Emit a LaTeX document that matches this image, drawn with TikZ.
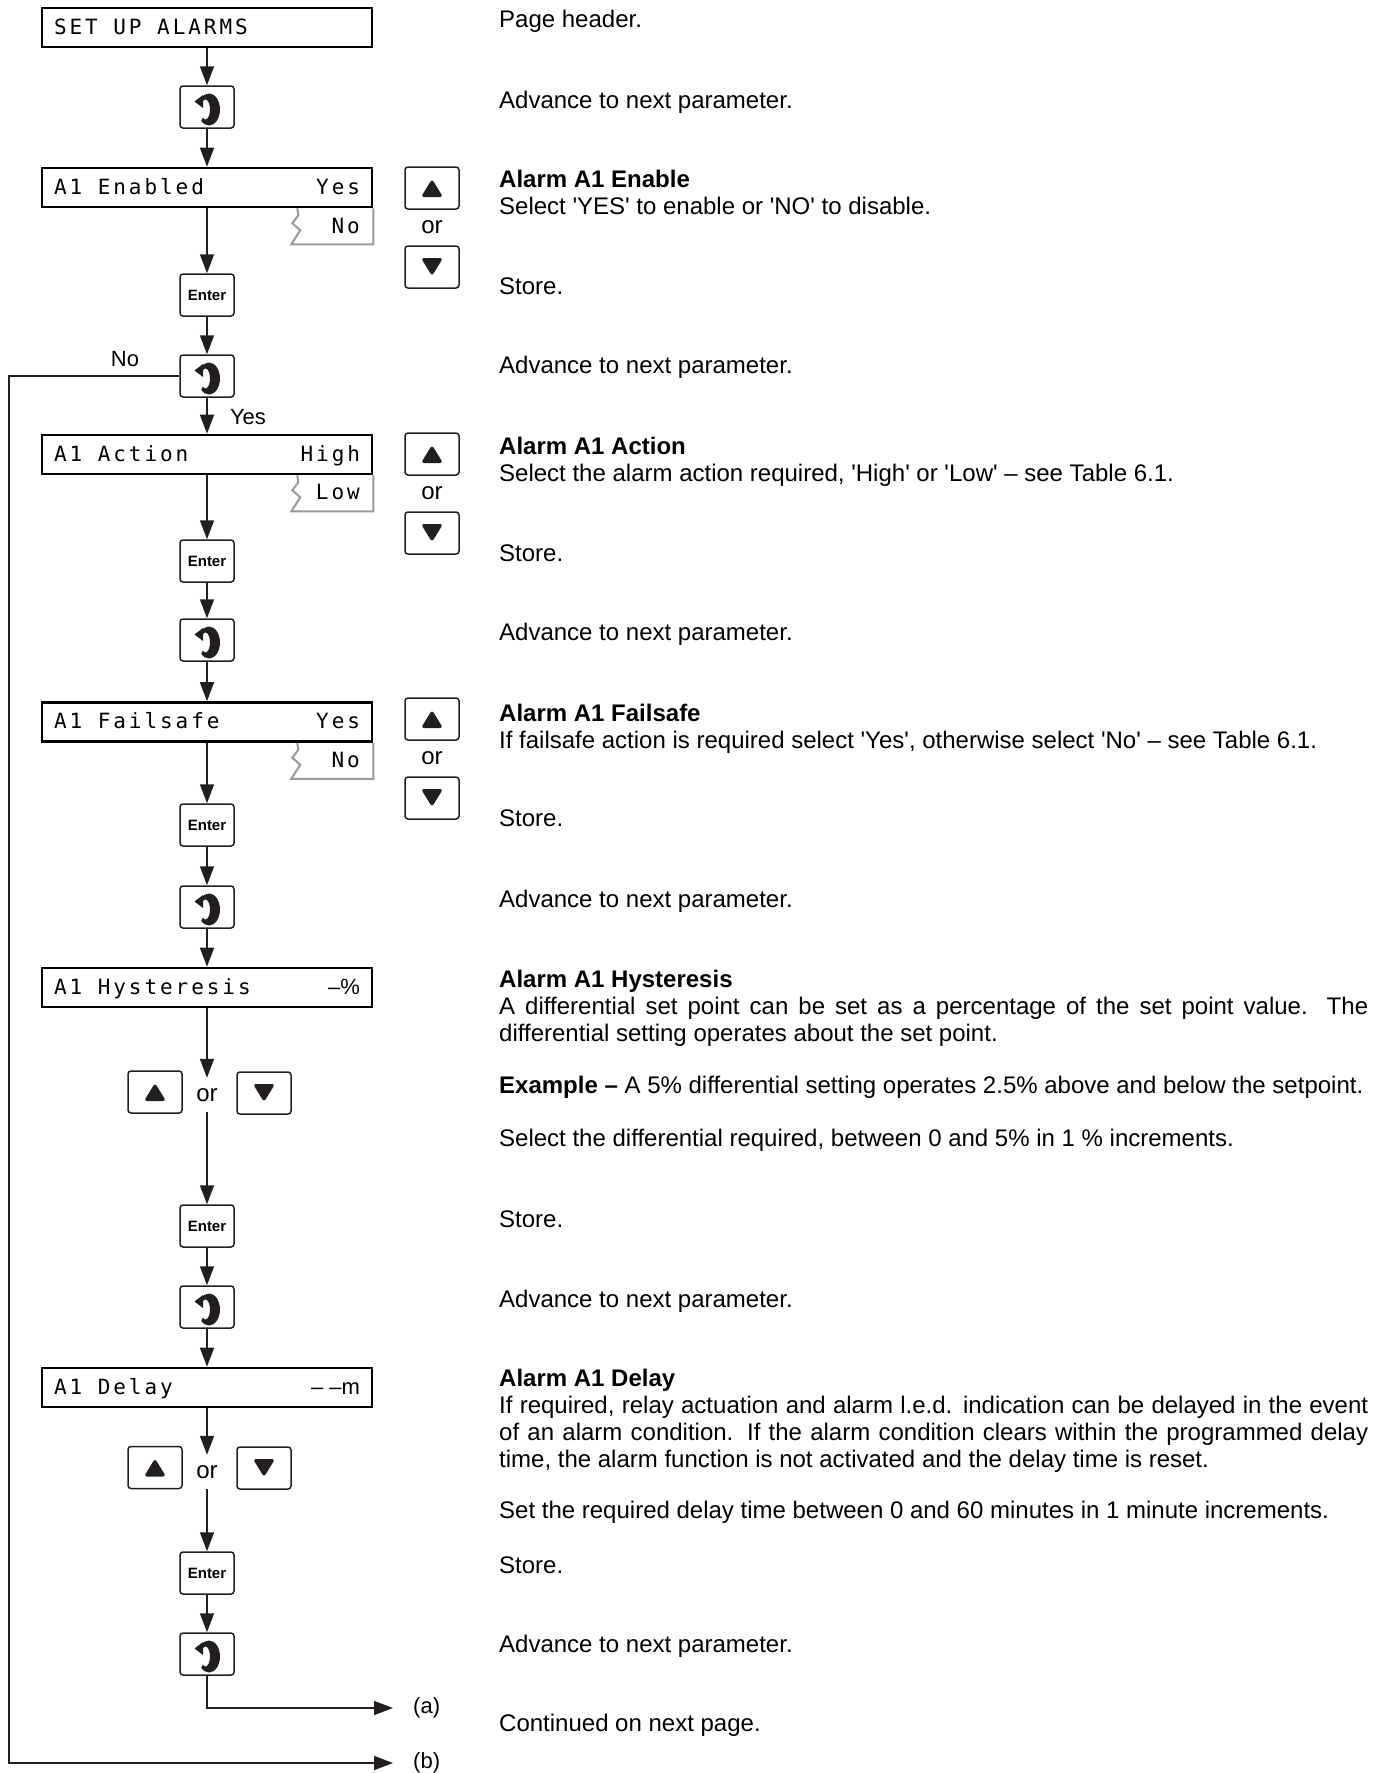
\documentclass[tikz,border=0pt]{standalone}
\usepackage{fontspec}
\setmainfont{Liberation Sans}
\newfontfamily\lcdfont[LetterSpace=14]{DejaVu Sans Mono}
\usetikzlibrary{arrows.meta}

\newcommand\lcdtype{\lcdfont\fontsize{21}{21}\selectfont}
\newcommand\notefont{\fontsize{24}{27}\selectfont}
\newcommand\lcdline[2]{\makebox[306pt][l]{#1\hfill#2}}
\newcommand\sqt{\textquotesingle}

\begin{document}
\begin{tikzpicture}[x=1pt, y=-1pt,
  flow/.style={draw=lineDark, line width=1.6pt, -{Triangle[length=19pt,width=14pt]}},
  altline/.style={draw=altGray, line width=2pt},
  lcdbox/.style={draw=black, line width=2.6pt, minimum width=330pt, minimum height=39pt,
    inner xsep=12pt, inner ysep=0pt, text height=13.5pt, text depth=0pt, font=\lcdtype},
  lcdalt/.style={anchor=base east, inner sep=0pt, font=\lcdtype},
  keybox/.style={draw=lineDark, line width=1.5pt, rounded corners=3pt,
    minimum width=54pt, minimum height=42pt, inner sep=0pt},
  enterkey/.style={keybox, font=\fontsize{15}{15}\selectfont\bfseries},
  upkey/.style={keybox, path picture={\fill[lineDark]
    ([shift={(-11,9)}]path picture bounding box.center) -- ++(22,0) -- ++(-11,-18) -- cycle;}},
  downkey/.style={keybox, path picture={\fill[lineDark]
    ([shift={(-11,-9)}]path picture bounding box.center) -- ++(22,0) -- ++(-11,18) -- cycle;}},
  ortext/.style={font=\notefont, inner sep=0pt},
  flowlabel/.style={font=\fontsize{22}{22}\selectfont, inner sep=0pt},
  note/.style={font=\notefont, anchor=base west, inner sep=0pt},
  notehead/.style={note, font=\notefont\bfseries},
  notepara/.style={note, text width=869pt, align=justify}
]

% Colori
\definecolor{lineDark}{HTML}{231F20}
\definecolor{altGray}{HTML}{9A9A9A}

\useasboundingbox (0,0) rectangle (1387,1773);

% Display
\node[lcdbox] (hdr) at (207,27.5) {\lcdline{SET UP ALARMS}{}};
\node[lcdbox] (dEn) at (207,187.5) {\lcdline{A1 Enabled}{Yes}};
\node[lcdbox] (dAc) at (207,454.5) {\lcdline{A1 Action}{High}};
\node[lcdbox] (dFs) at (207,722) {\lcdline{A1 Failsafe}{Yes}};
\node[lcdbox] (dHy) at (207,987.5) {\lcdline{A1 Hysteresis}{\rmfamily\fontsize{22}{22}\selectfont –\%}};
\node[lcdbox] (dDe) at (207,1387.5) {\lcdline{A1 Delay}{\rmfamily\fontsize{22}{22}\selectfont – –m}};

% Valori alternativi
\foreach \d in {dEn,dAc,dFs}
  \draw[altline] (\d.south east) -- ++(0,36) -- ++(-82,0) -- ++(9,-14) -- ++(-8,-7) -- ++(6,-8) -- ++(-1,-7);
\node[lcdalt] (altEn) at (360,233) {No};
\node[lcdalt] (altAc) at (360,499.5) {Low};
\node[lcdalt] (altFs) at (360,767) {No};

% Tasti
\node[keybox] (adv1) at (207,107) {};
\node[enterkey] (ent1) at (207,295) {Enter};
\node[keybox] (adv2) at (207,376) {};
\node[enterkey] (ent2) at (207,561) {Enter};
\node[keybox] (adv3) at (207,640) {};
\node[enterkey] (ent3) at (207,825) {Enter};
\node[keybox] (adv4) at (207,907) {};
\node[enterkey] (ent4) at (207,1226) {Enter};
\node[keybox] (adv5) at (207,1307) {};
\node[enterkey] (ent5) at (207,1573) {Enter};
\node[keybox] (adv6) at (207,1654) {};

% Simbolo avanzamento
\foreach \k in {adv1,adv2,adv3,adv4,adv5,adv6}{
  \begin{scope}[shift={(\k.center)}]
    \clip (0,2.5) -- (-20,-20) -- (30,-22) -- (30,30) -- (-14,30) -- cycle;
    \fill[lineDark, even odd rule] (2,2.5) ellipse[x radius=11, y radius=16]
      (-1.5,2.5) ellipse[x radius=4.5, y radius=10];
  \end{scope}
  \fill[lineDark, shift={(\k.center)}] (-12.5,-5.5) -- (-4,-12) -- (-4,1) -- cycle;
}

\node[upkey] (upEn) at (432,188) {};
\node[ortext] (orEn) at (432,227) {or};
\node[downkey] (dnEn) at (432,267) {};
\node[upkey] (upAc) at (432,454) {};
\node[ortext] (orAc) at (432,493) {or};
\node[downkey] (dnAc) at (432,533) {};
\node[upkey] (upFs) at (432,719) {};
\node[ortext] (orFs) at (432,758) {or};
\node[downkey] (dnFs) at (432,798) {};

\node[upkey] (upHy) at (155,1092) {};
\node[ortext, minimum height=34pt] (orHy) at (207,1095) {or};
\node[downkey] (dnHy) at (264,1093) {};
\node[upkey] (upDe) at (155,1467.5) {};
\node[ortext, minimum height=34pt] (orDe) at (207,1472) {or};
\node[downkey] (dnDe) at (264,1468) {};

% Collegamenti
\foreach \a/\b in {hdr/adv1, adv1/dEn, dEn/ent1, ent1/adv2, adv2/dAc, dAc/ent2,
    ent2/adv3, adv3/dFs, dFs/ent3, ent3/adv4, adv4/dHy, dHy/orHy, orHy/ent4,
    ent4/adv5, adv5/dDe, dDe/orDe, orDe/ent5, ent5/adv6}
  \draw[flow] (\a.south) -- (\b.north);

\node[flowlabel] (lblNo) at (125,359) {No};
\node[flowlabel] (lblYes) at (248,417) {Yes};

\coordinate (loopTop) at (9,376);
\coordinate (aEnd) at (393,1708);
\coordinate (bEnd) at (393,1763);
\draw[flow] (adv2.west) -- (loopTop) |- (bEnd);
\draw[flow] (adv6.south) |- (aEnd);
\node[flowlabel, anchor=west] (lblA) at (413,1708) {(a)};
\node[flowlabel, anchor=west] (lblB) at (413,1763) {(b)};

% Testo a destra
\node[note] (txtHdr) at (499,27.5) {Page header.};
\node[note] (txtAdv1) at (499,108) {Advance to next parameter.};
\node[notehead] (titEn) at (499,187.5) {Alarm A1 Enable};
\node[note] (txtEn) at (499,214.5) {Select \sqt YES\sqt{} to enable or \sqt NO\sqt{} to disable.};
\node[note] (txtSt1) at (499,294.5) {Store.};
\node[note] (txtAdv2) at (499,373.5) {Advance to next parameter.};
\node[notehead] (titAc) at (499,454) {Alarm A1 Action};
\node[note] (txtAc) at (499,481) {Select the alarm action required, \sqt High\sqt{} or \sqt Low\sqt{} – see Table 6.1.};
\node[note] (txtSt2) at (499,561.5) {Store.};
\node[note] (txtAdv3) at (499,640.5) {Advance to next parameter.};
\node[notehead] (titFs) at (499,721) {Alarm A1 Failsafe};
\node[note] (txtFs) at (499,748) {If failsafe action is required select \sqt Yes\sqt, otherwise select \sqt No\sqt{} – see Table 6.1.};
\node[note] (txtSt3) at (499,826.5) {Store.};
\node[note] (txtAdv4) at (499,907.5) {Advance to next parameter.};
\node[notehead] (titHy) at (499,987) {Alarm A1 Hysteresis};
\node[notepara] (txtHy) at (499,1014) {A differential set point can be set as a percentage of the set point value. The\linebreak differential setting operates about the set point.};
\node[note] (txtEx) at (499,1093.5) {\textbf{Example –} A 5\% differential setting operates 2.5\% above and below the setpoint.};
\node[note] (txtSel) at (499,1146) {Select the differential required, between 0 and 5\% in 1 \% increments.};
\node[note] (txtSt4) at (499,1227.5) {Store.};
\node[note] (txtAdv5) at (499,1307.5) {Advance to next parameter.};
\node[notehead] (titDe) at (499,1386.5) {Alarm A1 Delay};
\node[notepara] (txtDe) at (499,1413.5) {If required, relay actuation and alarm l.e.d. indication can be delayed in the event\linebreak of an alarm condition. If the alarm condition clears within the programmed delay\linebreak time, the alarm function is not activated and the delay time is reset.};
\node[note] (txtSet) at (499,1518) {Set the required delay time between 0 and 60 minutes in 1 minute increments.};
\node[note] (txtSt5) at (499,1573) {Store.};
\node[note] (txtAdv6) at (499,1652.5) {Advance to next parameter.};
\node[note] (txtCont) at (499,1731.5) {Continued on next page.};

\end{tikzpicture}
\end{document}
